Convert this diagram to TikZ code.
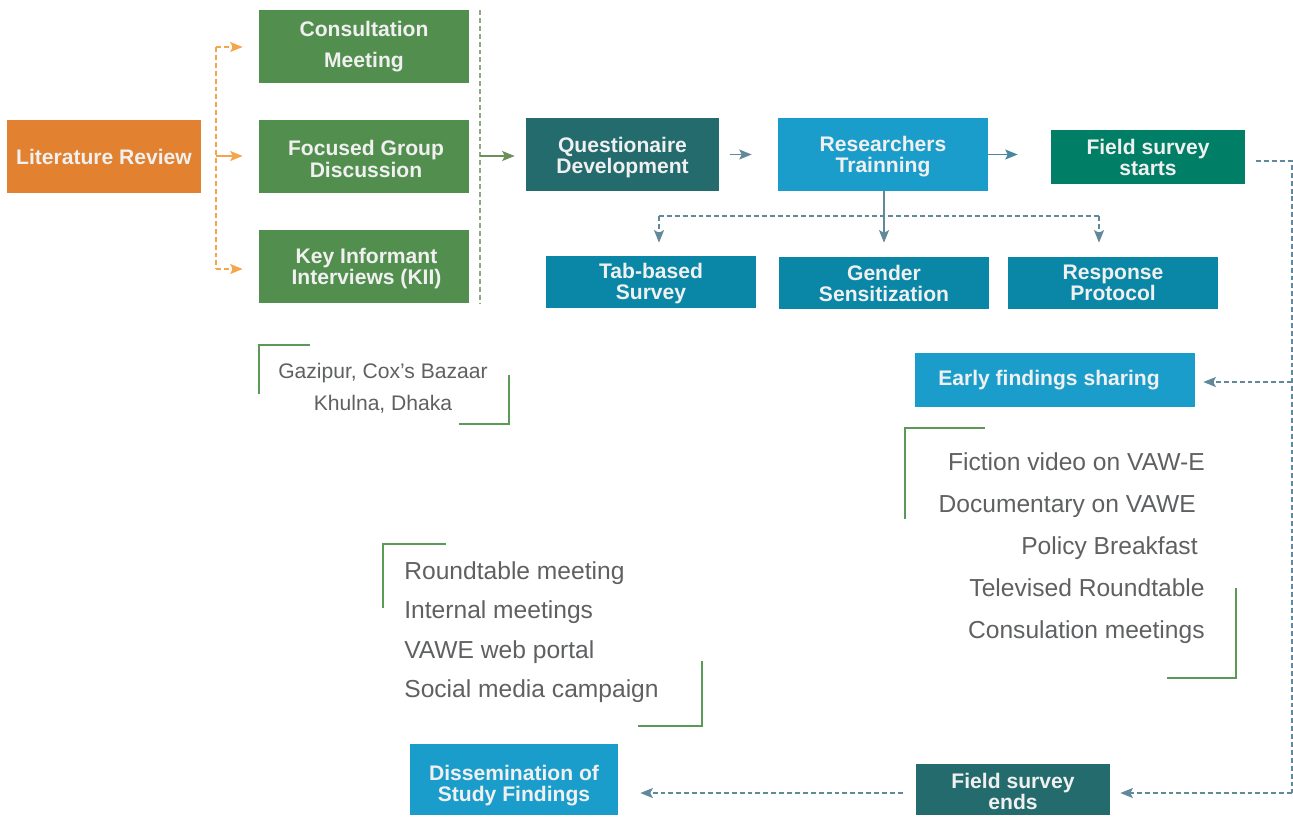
\documentclass[tikz,border=0pt]{standalone}
\usepackage{fontspec}
\setmainfont{Liberation Sans}
\usetikzlibrary{arrows.meta}

\definecolor{litorange}{HTML}{E2812F}
\definecolor{arrorange}{HTML}{F5A54A}
\definecolor{boxgreen}{HTML}{528F4F}
\definecolor{linegreen}{HTML}{8FA882}
\definecolor{arrgreen}{HTML}{6E8F5A}
\definecolor{bracketgreen}{HTML}{5A9A56}
\definecolor{darkteal}{HTML}{236B6C}
\definecolor{skyblue}{HTML}{1A9DCB}
\definecolor{midteal}{HTML}{0A87A6}
\definecolor{seagreen}{HTML}{017F66}
\definecolor{arrteal}{HTML}{62899A}
\definecolor{textgray}{HTML}{5F6062}

\tikzset{
    stepbox/.style={fill=#1, text=white!94!black, align=center, inner sep=0pt,
        font=\bfseries\fontsize{12}{12}\selectfont},
    wide/.style={minimum width=4.2cm},
    narrow/.style={minimum width=3.88cm},
    tall/.style={minimum height=1.46cm},
    flat/.style={minimum height=1.04cm},
    conn/.style={line width=0.75pt, -{Stealth[length=0.25cm,width=0.2cm,inset=0.05cm]}},
    dashline/.style={line width=0.75pt, dash pattern=on 2.8pt off 1.7pt},
    bracket/.style={draw=bracketgreen, line width=1.1pt},
    listtext/.style={text=textgray, inner sep=0pt}
}

\newcommand{\padr}[1]{\mbox{}\hspace{#1}\mbox{}}
\newcommand{\lowr}[1]{\rule{0pt}{#1}}

\begin{document}
\begin{tikzpicture}[x=0.02cm,y=-0.02cm]
    \useasboundingbox (0,0) rectangle (1293,816);

    \node[stepbox=litorange, narrow, tall] (lit) at (104,156.5) {Literature Review};
    \node[stepbox=boxgreen, wide, tall, font=\bfseries\fontsize{12}{18}\selectfont] (cons) at (364,46.5) {Consultation\\Meeting};
    \node[stepbox=boxgreen, wide, tall] (fgd) at (364,156.5) {\lowr{11.5pt}\hspace*{0.08cm}Focused Group\\\hspace*{0.08cm}Discussion};
    \node[stepbox=boxgreen, wide, tall] (kii) at (364,266.5) {\lowr{11.5pt}\hspace*{0.1cm}Key Informant\\\hspace*{0.1cm}Interviews (KII)};
    \node[stepbox=darkteal, minimum width=3.86cm, tall] (quest) at (622.5,154.5) {\lowr{12pt}Questionaire\\Development};
    \node[stepbox=skyblue, wide, tall] (rtrain) at (883,154.5) {\lowr{11.5pt}Researchers\\Trainning};
    \node[stepbox=seagreen, narrow, minimum height=1.08cm] (fstart) at (1148,157) {Field survey\\starts};
    \node[stepbox=midteal, wide, flat] (tab) at (651,282) {\lowr{10.5pt}Tab-based\\Survey};
    \node[stepbox=midteal, wide, flat] (gender) at (884,283) {Gender\\Sensitization};
    \node[stepbox=midteal, wide, flat] (resp) at (1113,283) {Response\\Protocol};
    \node[stepbox=skyblue, minimum width=5.6cm, minimum height=1.08cm] (early) at (1055,380) {Early findings sharing\hspace*{0.24cm}};
    \node[stepbox=skyblue, minimum width=4.16cm, minimum height=1.42cm] (dissem) at (514,779.5) {\lowr{16pt}Dissemination of\\Study Findings};
    \node[stepbox=darkteal, narrow, minimum height=1.02cm] (fend) at (1013,789.5) {\lowr{10.5pt}Field survey\\ends};

    \node[listtext, align=center, font=\fontsize{12}{18.2}\selectfont] (places) at (383,388) {Gazipur, Cox’s Bazaar\\Khulna, Dhaka};
    \node[listtext, align=right, anchor=east, font=\fontsize{14}{23.8}\selectfont] (events) at (1205,548)
        {Fiction video on VAW-E\\Documentary on VAWE\padr{0.18cm}\\Policy Breakfast\padr{0.14cm}\\Televised Roundtable\\Consulation meetings};
    \node[listtext, align=left, anchor=west, font=\fontsize{14}{22.5}\selectfont] (outreach) at (404,632)
        {Roundtable meeting\\Internal meetings\\VAWE web portal\\Social media campaign};

    \coordinate (ltop) at (216,47);
    \coordinate (lmid) at (216,156);
    \coordinate (lbot) at (216,269);
    \coordinate (gtop) at (480,10);
    \coordinate (gmid) at (480,156);
    \coordinate (gbot) at (480,303);
    \coordinate (bl) at (659,216);
    \coordinate (br) at (1099,216);
    \coordinate (rtop) at (1292,161);
    \coordinate (rmid) at (1292,382);
    \coordinate (rbot) at (1292,793);

    \draw[arrorange, dashline] (ltop) -- (lbot);
    \draw[arrorange, conn, dashline, shorten >=0.32cm] (ltop) -- (ltop -| cons.west);
    \draw[arrorange, conn, shorten >=0.32cm] (lmid) -- (lmid -| fgd.west);
    \draw[arrorange, conn, dashline, shorten >=0.32cm] (lbot) -- (lbot -| kii.west);

    \draw[linegreen, dashline] (gtop) -- (gbot);
    \draw[arrgreen, conn, shorten >=0.22cm] (gmid) -- (gmid -| quest.west);
    \draw[arrteal, conn, shorten <=0.22cm, shorten >=0.52cm] (quest.east) -- (rtrain.west);
    \draw[arrteal!70!midteal, conn, shorten >=0.66cm] (rtrain.east) -- (fstart.west |- rtrain.east);

    \draw[arrteal, conn, shorten >=0.28cm] (gender.north |- rtrain.south) -- (gender.north);
    \draw[arrteal, dashline] (bl) -- (br);
    \draw[arrteal, conn, dashline, shorten >=0.26cm] (bl) -- (bl |- tab.north);
    \draw[arrteal, conn, dashline, shorten >=0.28cm] (br) -- (br |- resp.north);

    \draw[arrteal, dashline] ([shift={(11,4)}]fstart.east) -- (rtop) -- (rbot);
    \draw[arrteal, conn, dashline, shorten >=0.16cm] (rmid) -- (rmid -| early.east);
    \draw[arrteal, conn, dashline, shorten >=0.2cm] (rbot) -- (rbot -| fend.east);
    \draw[arrteal, conn, dashline, shorten <=0.26cm, shorten >=0.44cm] (rbot -| fend.west) -- (rbot -| dissem.east);

    \draw[bracket] (259,394) -- (259,345) -- (310,345);
    \draw[bracket] (459,424) -- (509,424) -- (509,375);
    \draw[bracket] (905,519) -- (905,428) -- (985,428);
    \draw[bracket] (1167,678) -- (1236,678) -- (1236,588);
    \draw[bracket] (383,608) -- (383,544) -- (446,544);
    \draw[bracket] (638,726) -- (702,726) -- (702,661);
\end{tikzpicture}
\end{document}
